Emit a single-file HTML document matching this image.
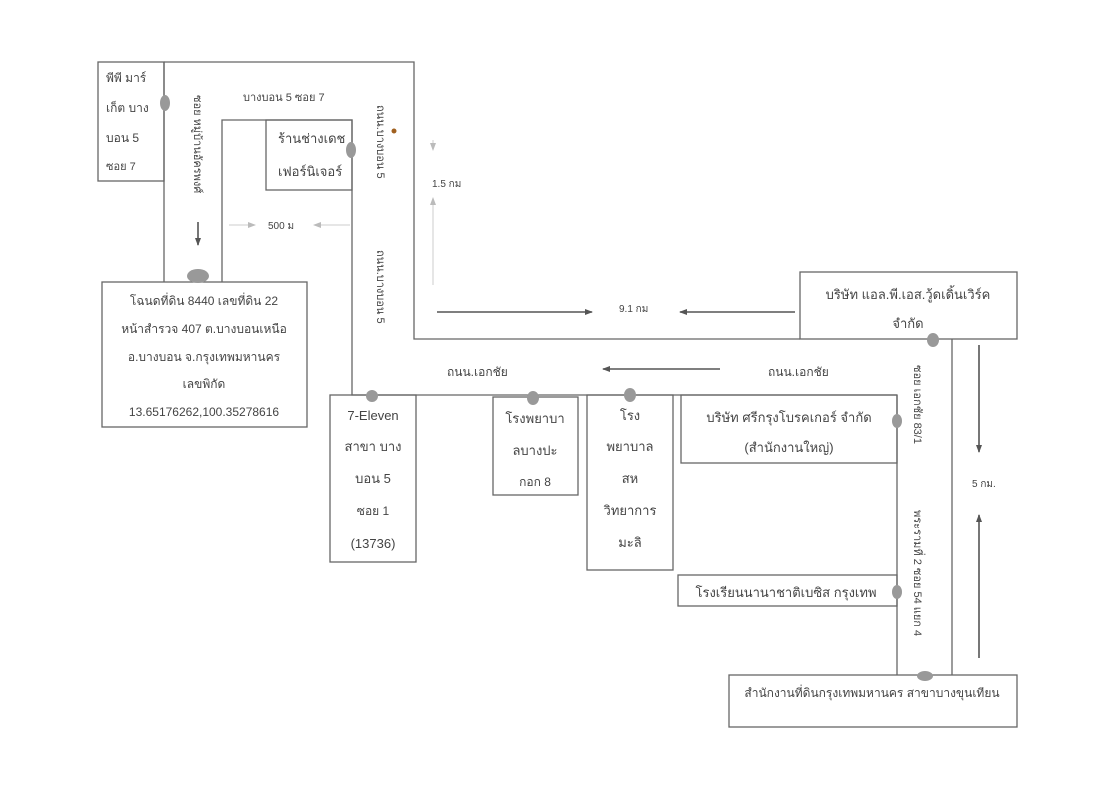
<!DOCTYPE html>
<html><head><meta charset="utf-8"><style>
html,body{margin:0;padding:0;background:#fff;}
svg{display:block;}
text{font-family:"Liberation Sans","DejaVu Sans",sans-serif;fill:#444;}
</style></head><body>
<svg width="1097" height="800" viewBox="0 0 1097 800" xmlns="http://www.w3.org/2000/svg">
<defs>
<marker id="ah" markerWidth="8" markerHeight="8" refX="7" refY="4" orient="auto" markerUnits="userSpaceOnUse"><path d="M0,1 L8,4 L0,7 Z" fill="#555"/></marker>
<marker id="al" markerWidth="8" markerHeight="8" refX="7" refY="4" orient="auto" markerUnits="userSpaceOnUse"><path d="M0,1 L8,4 L0,7 Z" fill="#bbb"/></marker>
</defs>
<g stroke="#666" stroke-width="1.3" fill="none">
<polyline points="164,62 414,62 414,339 800,339"/>
<line x1="164" y1="62" x2="164" y2="282"/>
<polyline points="222,282 222,120 352,120 352,395 897,395"/>
<line x1="952" y1="339" x2="952" y2="675"/>
<line x1="897" y1="395" x2="897" y2="675"/>
<rect x="98" y="62" width="66" height="119"/>
<rect x="266" y="120" width="86" height="70"/>
<rect x="102" y="282" width="205" height="145"/>
<rect x="800" y="272" width="217" height="67"/>
<rect x="330" y="395" width="86" height="167"/>
<rect x="493" y="397" width="85" height="98"/>
<rect x="587" y="395" width="86" height="175"/>
<rect x="681" y="395" width="216" height="68"/>
<rect x="678" y="575" width="219" height="31"/>
<rect x="729" y="675" width="288" height="52"/>
</g>
<g stroke="#555" stroke-width="1.6">
<line x1="198" y1="222" x2="198" y2="245" marker-end="url(#ah)"/>
<line x1="437" y1="312" x2="592" y2="312" marker-end="url(#ah)"/>
<line x1="795" y1="312" x2="680" y2="312" marker-end="url(#ah)"/>
<line x1="720" y1="369" x2="603" y2="369" marker-end="url(#ah)"/>
<line x1="979" y1="345" x2="979" y2="452" marker-end="url(#ah)"/>
<line x1="979" y1="658" x2="979" y2="515" marker-end="url(#ah)"/>
</g>
<g stroke="#ccc" stroke-width="1">
<line x1="229" y1="225" x2="255" y2="225" marker-end="url(#al)"/>
<line x1="350" y1="225" x2="314" y2="225" marker-end="url(#al)"/>
<line x1="433" y1="140" x2="433" y2="150" marker-end="url(#al)"/>
<line x1="433" y1="285" x2="433" y2="198" marker-end="url(#al)"/>
</g>
<g fill="#999">
<ellipse cx="165" cy="103" rx="5" ry="8"/>
<ellipse cx="198" cy="276" rx="11" ry="7"/>
<ellipse cx="351" cy="150" rx="5" ry="8"/>
<ellipse cx="372" cy="396" rx="6" ry="6"/>
<ellipse cx="533" cy="398" rx="6" ry="7"/>
<ellipse cx="630" cy="395" rx="6" ry="7"/>
<ellipse cx="933" cy="340" rx="6" ry="7"/>
<ellipse cx="897" cy="421" rx="5" ry="7"/>
<ellipse cx="897" cy="592" rx="5" ry="7"/>
<ellipse cx="925" cy="676" rx="8" ry="5"/>
</g>
<circle cx="394" cy="131" r="2.5" fill="#a06020"/>
<g font-size="12">
<text x="106" y="82">พีพี มาร์</text>
<text x="106" y="112">เก็ต บาง</text>
<text x="106" y="142">บอน 5</text>
<text x="106" y="170" font-size="11">ซอย 7</text>
<text x="243" y="101" font-size="11">บางบอน 5 ซอย 7</text>
<text x="278" y="143" font-size="13">ร้านช่างเดช</text>
<text x="278" y="176" font-size="13">เฟอร์นิเจอร์</text>
<text x="268" y="229" font-size="10" fill="#888">500 ม</text>
<text x="432" y="187" font-size="10" fill="#777">1.5 กม</text>
<text x="619" y="312" font-size="10" fill="#777">9.1 กม</text>
<text x="972" y="487" font-size="10" fill="#777">5 กม.</text>
<text x="204" y="305" text-anchor="middle" font-size="12">โฉนดที่ดิน  8440 เลขที่ดิน 22</text>
<text x="204" y="333" text-anchor="middle" font-size="12">หน้าสำรวจ  407 ต.บางบอนเหนือ</text>
<text x="204" y="361" text-anchor="middle" font-size="12">อ.บางบอน จ.กรุงเทพมหานคร</text>
<text x="204" y="388" text-anchor="middle" font-size="12">เลขพิกัด</text>
<text x="204" y="416" text-anchor="middle" font-size="12">13.65176262,100.35278616</text>
<text x="908" y="299" text-anchor="middle" font-size="13">บริษัท แอล.พี.เอส.วู้ดเดิ้นเวิร์ค</text>
<text x="908" y="328" text-anchor="middle" font-size="13">จำกัด</text>
<text x="447" y="376">ถนน.เอกชัย</text>
<text x="768" y="376">ถนน.เอกชัย</text>
<text x="373" y="420" text-anchor="middle" font-size="13">7-Eleven</text>
<text x="373" y="451" text-anchor="middle" font-size="13">สาขา บาง</text>
<text x="373" y="483" text-anchor="middle" font-size="13">บอน 5</text>
<text x="373" y="515" text-anchor="middle" font-size="12">ซอย 1</text>
<text x="373" y="548" text-anchor="middle" font-size="13">(13736)</text>
<text x="535" y="423" text-anchor="middle" font-size="13">โรงพยาบา</text>
<text x="535" y="455" text-anchor="middle" font-size="13">ลบางปะ</text>
<text x="535" y="486" text-anchor="middle" font-size="12">กอก 8</text>
<text x="630" y="420" text-anchor="middle" font-size="13">โรง</text>
<text x="630" y="451" text-anchor="middle" font-size="13">พยาบาล</text>
<text x="630" y="483" text-anchor="middle" font-size="13">สห</text>
<text x="630" y="515" text-anchor="middle" font-size="13">วิทยาการ</text>
<text x="630" y="547" text-anchor="middle" font-size="13">มะลิ</text>
<text x="789" y="422" text-anchor="middle" font-size="13">บริษัท ศรีกรุงโบรคเกอร์ จำกัด</text>
<text x="789" y="452" text-anchor="middle" font-size="13">(สำนักงานใหญ่)</text>
<text x="786" y="597" text-anchor="middle" font-size="13">โรงเรียนนานาชาติเบซิส กรุงเทพ</text>
<text x="872" y="697" text-anchor="middle" font-size="12">สำนักงานที่ดินกรุงเทพมหานคร สาขาบางขุนเทียน</text>
<text transform="translate(194,95) rotate(90)" font-size="11">ซอย หมู่บ้านอัครพงศ์</text>
<text transform="translate(377,105) rotate(90)" font-size="11">ถนน.บางบอน 5</text>
<text transform="translate(377,250) rotate(90)" font-size="11">ถนน.บางบอน 5</text>
<text transform="translate(914,365) rotate(90)" font-size="11">ซอย เอกชัย 83/1</text>
<text transform="translate(914,510) rotate(90)" font-size="11">พระรามที่ 2 ซอย 54 แยก 4</text>
</g>
</svg>
</body></html>
